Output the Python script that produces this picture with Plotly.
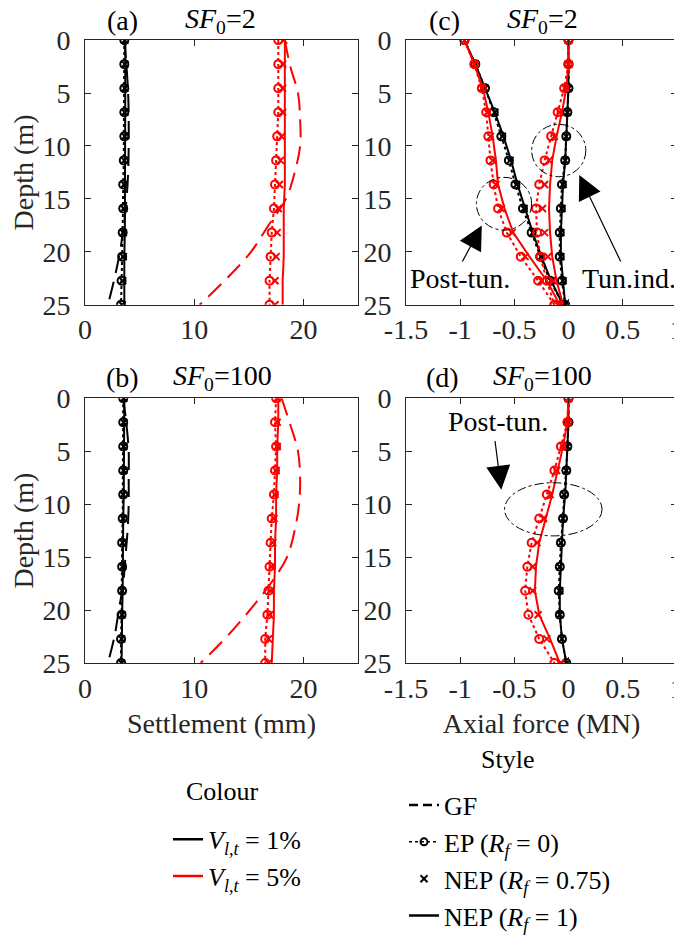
import plotly.graph_objects as go

# ---------------- data ----------------
depth = [0, 2.27, 4.55, 6.82, 9.09, 11.36, 13.64, 15.91, 18.18, 20.45, 22.73, 25.0]
gf_depth = [0, 2.5, 5, 7.5, 10, 12.5, 15, 17.5, 20, 22.5, 25]

# (a) settlement, SF0 = 2  (mm)
a_blk_gf = [3.6, 3.8, 3.95, 4.0, 4.0, 3.95, 3.8, 3.55, 3.2, 2.7, 2.1]
a_blk_ep = [3.6, 3.6, 3.6, 3.6, 3.6, 3.55, 3.5, 3.5, 3.45, 3.4, 3.35, 3.3]
a_blk_n075 = [3.65, 3.65, 3.65, 3.65, 3.65, 3.6, 3.6, 3.55, 3.5, 3.5, 3.45, 3.4]
a_blk_n1 = [3.7, 3.7, 3.7, 3.7, 3.7, 3.7, 3.65, 3.65, 3.65, 3.6, 3.6, 3.6]
a_red_gf = [18.3, 18.8, 19.5, 19.7, 19.7, 19.2, 18.4, 16.8, 15.2, 13.0, 10.5]
a_red_ep = [17.7, 17.7, 17.7, 17.7, 17.6, 17.5, 17.4, 17.3, 17.1, 17.0, 16.9, 16.9]
a_red_n075 = [18.2, 18.1, 18.1, 18.1, 18.0, 17.9, 17.8, 17.7, 17.6, 17.5, 17.4, 17.4]
a_red_n1 = [18.3, 18.3, 18.3, 18.3, 18.3, 18.3, 18.3, 18.2, 18.2, 18.2, 18.1, 18.1]

# (b) settlement, SF0 = 100 (mm)
b_blk_gf = [3.5, 3.8, 4.0, 4.0, 4.0, 3.9, 3.7, 3.5, 3.1, 2.7, 2.1]
b_blk_ep = [3.5, 3.5, 3.5, 3.5, 3.5, 3.45, 3.4, 3.4, 3.4, 3.35, 3.3, 3.3]
b_blk_n075 = [3.55, 3.55, 3.55, 3.55, 3.5, 3.5, 3.45, 3.45, 3.4, 3.4, 3.35, 3.35]
b_blk_n1 = [3.6, 3.6, 3.6, 3.55, 3.55, 3.5, 3.5, 3.45, 3.45, 3.4, 3.4, 3.35]
b_red_gf = [18.0, 18.8, 19.5, 19.7, 19.6, 19.2, 18.5, 17.0, 15.1, 13.0, 10.6]
b_red_ep = [17.5, 17.4, 17.5, 17.4, 17.3, 17.1, 17.0, 16.9, 16.8, 16.7, 16.5, 16.5]
b_red_n075 = [17.6, 17.6, 17.6, 17.5, 17.4, 17.3, 17.2, 17.1, 17.0, 16.9, 16.8, 16.8]
b_red_n1 = [17.7, 17.7, 17.6, 17.6, 17.5, 17.5, 17.4, 17.4, 17.3, 17.3, 17.2, 17.1]

# (c) axial force, SF0 = 2 (MN) - post-tunnelling and tunnelling-induced
c_post_blk_ep = [-0.96, -0.86, -0.77, -0.69, -0.62, -0.55, -0.49, -0.42, -0.34, -0.26, -0.17, -0.05]
c_post_blk_n075 = [-0.96, -0.86, -0.77, -0.68, -0.61, -0.54, -0.48, -0.41, -0.33, -0.25, -0.16, -0.05]
c_post_blk_n1 = [-0.96, -0.86, -0.77, -0.68, -0.60, -0.53, -0.47, -0.40, -0.33, -0.25, -0.16, -0.05]
c_post_red_ep = [-0.96, -0.87, -0.80, -0.76, -0.74, -0.72, -0.69, -0.65, -0.57, -0.44, -0.28, -0.13]
c_post_red_n075 = [-0.96, -0.87, -0.80, -0.75, -0.72, -0.70, -0.67, -0.62, -0.52, -0.40, -0.25, -0.10]
c_post_red_n1 = [-0.96, -0.87, -0.79, -0.74, -0.70, -0.67, -0.65, -0.59, -0.51, -0.36, -0.20, -0.08]
c_ind_blk_ep = [0.0, 0.0, 0.0, -0.01, -0.02, -0.03, -0.06, -0.07, -0.08, -0.08, -0.06, -0.03]
c_ind_blk_n075 = [0.0, 0.0, 0.0, -0.01, -0.02, -0.03, -0.05, -0.06, -0.07, -0.07, -0.05, -0.03]
c_ind_blk_n1 = [0.0, 0.0, 0.0, -0.01, -0.02, -0.03, -0.05, -0.06, -0.07, -0.07, -0.05, -0.03]
c_ind_red_ep = [0.0, 0.0, -0.04, -0.10, -0.16, -0.22, -0.27, -0.30, -0.29, -0.26, -0.20, -0.13]
c_ind_red_n075 = [0.0, 0.0, -0.03, -0.08, -0.13, -0.18, -0.22, -0.24, -0.22, -0.19, -0.14, -0.08]
c_ind_red_n1 = [0.0, 0.0, -0.02, -0.06, -0.11, -0.15, -0.17, -0.18, -0.17, -0.15, -0.11, -0.05]

# (d) axial force, SF0 = 100 (MN)
d_blk_ep = [0.0, 0.0, -0.01, -0.02, -0.04, -0.05, -0.07, -0.08, -0.09, -0.08, -0.06, -0.02]
d_blk_n075 = [0.0, 0.0, -0.01, -0.02, -0.04, -0.05, -0.07, -0.08, -0.08, -0.08, -0.06, -0.02]
d_blk_n1 = [0.0, 0.0, -0.01, -0.02, -0.03, -0.05, -0.06, -0.07, -0.08, -0.08, -0.06, -0.02]
d_red_ep = [0.0, -0.01, -0.07, -0.13, -0.20, -0.27, -0.34, -0.38, -0.40, -0.37, -0.27, -0.13]
d_red_n075 = [0.0, -0.01, -0.05, -0.11, -0.17, -0.23, -0.29, -0.33, -0.33, -0.28, -0.20, -0.07]
d_red_n1 = [0.0, -0.01, -0.05, -0.10, -0.15, -0.21, -0.27, -0.30, -0.31, -0.27, -0.17, -0.08]

settle_ticks = [0, 10, 20]
settle_ticklabels = ["0", "10", "20"]
force_ticks = [-1.5, -1, -0.5, 0, 0.5, 1]
force_ticklabels = ["-1.5", "-1", "-0.5", "0", "0.5", "1"]
depth_ticks = [0, 5, 10, 15, 20, 25]

BLACK = "#000000"
RED = "#FF0000"
AX = "#262626"
FONT = "Liberation Serif, Times New Roman, serif"
FS = 28
LFS = 26

# page body has an 8 px margin: figure is sized/positioned to compensate
OFF = 8
W, H = 682 - OFF, 940 - OFF


def PX(x):
    return (x - OFF) / W


def PY(y):
    return 1 - (y - OFF) / H


fig = go.Figure()


def add_set(xa, ya, ep, n075, n1, color, gf=None):
    if gf is not None:
        fig.add_trace(go.Scatter(x=gf, y=gf_depth, mode="lines", xaxis=xa, yaxis=ya,
                                 line=dict(color=color, width=2, dash="18px,9px", shape="spline"),
                                 showlegend=False, hoverinfo="skip"))
    fig.add_trace(go.Scatter(x=ep, y=depth, mode="lines+markers", xaxis=xa, yaxis=ya,
                             line=dict(color=color, width=2, dash="dot"),
                             marker=dict(symbol="circle-open", size=8, color=color, line=dict(width=2, color=color)),
                             showlegend=False, hoverinfo="skip"))
    fig.add_trace(go.Scatter(x=n075, y=depth, mode="markers", xaxis=xa, yaxis=ya,
                             marker=dict(symbol="x-thin", size=7, color=color, line=dict(width=2, color=color)),
                             showlegend=False, hoverinfo="skip"))
    fig.add_trace(go.Scatter(x=n1, y=depth, mode="lines", xaxis=xa, yaxis=ya,
                             line=dict(color=color, width=2),
                             showlegend=False, hoverinfo="skip"))


# (a)
add_set("x", "y", a_blk_ep, a_blk_n075, a_blk_n1, BLACK, a_blk_gf)
add_set("x", "y", a_red_ep, a_red_n075, a_red_n1, RED, a_red_gf)
# (c)
add_set("x2", "y2", c_post_blk_ep, c_post_blk_n075, c_post_blk_n1, BLACK)
add_set("x2", "y2", c_ind_blk_ep, c_ind_blk_n075, c_ind_blk_n1, BLACK)
add_set("x2", "y2", c_post_red_ep, c_post_red_n075, c_post_red_n1, RED)
add_set("x2", "y2", c_ind_red_ep, c_ind_red_n075, c_ind_red_n1, RED)
# (b)
add_set("x3", "y3", b_blk_ep, b_blk_n075, b_blk_n1, BLACK, b_blk_gf)
add_set("x3", "y3", b_red_ep, b_red_n075, b_red_n1, RED, b_red_gf)
# (d)
add_set("x4", "y4", d_blk_ep, d_blk_n075, d_blk_n1, BLACK)
add_set("x4", "y4", d_red_ep, d_red_n075, d_red_n1, RED)

# ---- legend entries (no data) ----
fig.add_trace(go.Scatter(x=[None], y=[None], mode="lines", name="<i>V</i><sub><i>l,t</i></sub> = 1%",
                         line=dict(color=BLACK, width=2.5), legend="legend"))
fig.add_trace(go.Scatter(x=[None], y=[None], mode="lines", name="<i>V</i><sub><i>l,t</i></sub> = 5%",
                         line=dict(color=RED, width=2.5), legend="legend"))
fig.add_trace(go.Scatter(x=[None], y=[None], mode="lines", name="GF",
                         line=dict(color=BLACK, width=2.5, dash="9px,5px"), legend="legend2"))
fig.add_trace(go.Scatter(x=[None], y=[None], mode="lines+markers", name="EP (<i>R</i><sub><i>f</i></sub> = 0)",
                         line=dict(color=BLACK, width=1.5, dash="dot"),
                         marker=dict(symbol="circle-open", size=7, color=BLACK, line=dict(width=2, color=BLACK)),
                         legend="legend2"))
fig.add_trace(go.Scatter(x=[None], y=[None], mode="markers", name="NEP (<i>R</i><sub><i>f</i></sub> = 0.75)",
                         marker=dict(symbol="x-thin", size=7, color=BLACK, line=dict(width=2, color=BLACK)),
                         legend="legend2"))
fig.add_trace(go.Scatter(x=[None], y=[None], mode="lines", name="NEP (<i>R</i><sub><i>f</i></sub> = 1)",
                         line=dict(color=BLACK, width=2.5), legend="legend2"))

xdom_l = [PX(85), PX(358)]
xdom_r = [PX(406), PX(677)]
ydom_t = [PY(313), PY(41)]
ydom_b = [PY(681), PY(409)]

tickfont = dict(family=FONT, size=FS, color=AX)


def xax(dom, anchor, rng, tv, tt, title=None):
    d = dict(domain=dom, anchor=anchor, range=rng, tickvals=tv, ticktext=tt,
             showgrid=False, zeroline=False, showline=True, linecolor=AX, linewidth=1,
             mirror="ticks", ticks="inside", ticklen=6, tickcolor=AX, tickwidth=1,
             tickfont=tickfont, automargin=False, ticklabelstandoff=0,
             ticklabeloverflow="allow")
    if title:
        d["title"] = dict(text=title, font=dict(family=FONT, size=FS, color=AX), standoff=10)
    return d


def yax(dom, anchor, title=None):
    d = dict(domain=dom, anchor=anchor, range=[25, 0], tickvals=depth_ticks,
             showgrid=False, zeroline=False, showline=True, linecolor=AX, linewidth=1,
             mirror="ticks", ticks="inside", ticklen=6, tickcolor=AX, tickwidth=1,
             tickfont=tickfont, automargin=False, ticklabelstandoff=8,
             ticklabeloverflow="allow")
    if title:
        d["title"] = dict(text=title, font=dict(family=FONT, size=FS, color=AX), standoff=6)
    return d


fig.update_layout(
    width=W, height=H, autosize=False,
    margin=dict(l=0, r=0, t=0, b=0),
    paper_bgcolor="white", plot_bgcolor="white",
    font=dict(family=FONT, size=FS, color="black"),
    xaxis=xax(xdom_l, "y", [0, 25], settle_ticks, settle_ticklabels),
    yaxis=yax(ydom_t, "x", "Depth (m)"),
    xaxis2=xax(xdom_r, "y2", [-1.5, 1.002], force_ticks, force_ticklabels),
    yaxis2=yax(ydom_t, "x2"),
    xaxis3=xax(xdom_l, "y3", [0, 25], settle_ticks, settle_ticklabels, "Settlement (mm)"),
    yaxis3=yax(ydom_b, "x3", "Depth (m)"),
    xaxis4=xax(xdom_r, "y4", [-1.5, 1.002], force_ticks, force_ticklabels, "Axial force (MN)"),
    yaxis4=yax(ydom_b, "x4"),
    legend=dict(x=PX(168), y=PY(838), xanchor="left", yanchor="top",
                bgcolor="rgba(0,0,0,0)", font=dict(family=FONT, size=LFS), tracegroupgap=0),
    legend2=dict(x=PX(404), y=PY(803), xanchor="left", yanchor="top",
                 bgcolor="rgba(0,0,0,0)", font=dict(family=FONT, size=LFS), tracegroupgap=0),
)

# panel titles and legend titles
titles = [
    ("(a)", 122, 21, FS), ("<i>SF</i><sub>0</sub>=2", 221, 21, FS),
    ("(c)", 444, 21, FS), ("<i>SF</i><sub>0</sub>=2", 542, 21, FS),
    ("(b)", 122, 388, FS), ("<i>SF</i><sub>0</sub>=100", 222, 388, FS),
    ("(d)", 442, 388, FS), ("<i>SF</i><sub>0</sub>=100", 542, 388, FS),
    ("Colour", 222, 813, LFS), ("Style", 507, 780, LFS),
]
for txt, px, py, fs in titles:
    fig.add_annotation(text=txt, x=PX(px), y=PY(py), xref="paper", yref="paper",
                       showarrow=False, xanchor="center", yanchor="middle",
                       font=dict(family=FONT, size=fs, color="black"))

# ellipses (dash-dot) marking regions
ellipses = [
    ("x2", "y2", -0.34, 0.16, 7.95, 12.9),
    ("x2", "y2", -0.85, -0.34, 12.96, 17.95),
    ("x4", "y4", -0.59, 0.31, 7.98, 13.0),
]
for xr, yr, x0, x1, y0, y1 in ellipses:
    fig.add_shape(type="circle", xref=xr, yref=yr, x0=x0, x1=x1, y0=y0, y1=y1,
                  line=dict(color="black", width=1, dash="dashdot"))

# arrows and labels
arrows = [
    ("x2", "y2", -0.80, 17.5, -1.0, 21.3),
    ("x2", "y2", 0.10, 12.75, 0.51, 21.5),
    ("x4", "y4", -0.62, 8.65, -0.68, 3.9),
]
for xr, yr, hx, hy, tx, ty in arrows:
    fig.add_annotation(x=hx, y=hy, ax=tx, ay=ty, xref=xr, yref=yr, axref=xr, ayref=yr,
                       text="", showarrow=True, arrowhead=2, arrowsize=4, arrowwidth=1.2,
                       arrowcolor="black")

labels = [
    ("x2", "y2", -1.0, 22.5, "Post-tun."),
    ("x2", "y2", 0.56, 22.5, "Tun.ind."),
    ("x4", "y4", -0.65, 2.2, "Post-tun."),
]
for xr, yr, lx, ly, txt in labels:
    fig.add_annotation(x=lx, y=ly, xref=xr, yref=yr, text=txt, showarrow=False,
                       xanchor="center", yanchor="middle", bgcolor="white",
                       font=dict(family=FONT, size=FS, color="black"))

fig.write_html("out.html", config={"displayModeBar": False})
